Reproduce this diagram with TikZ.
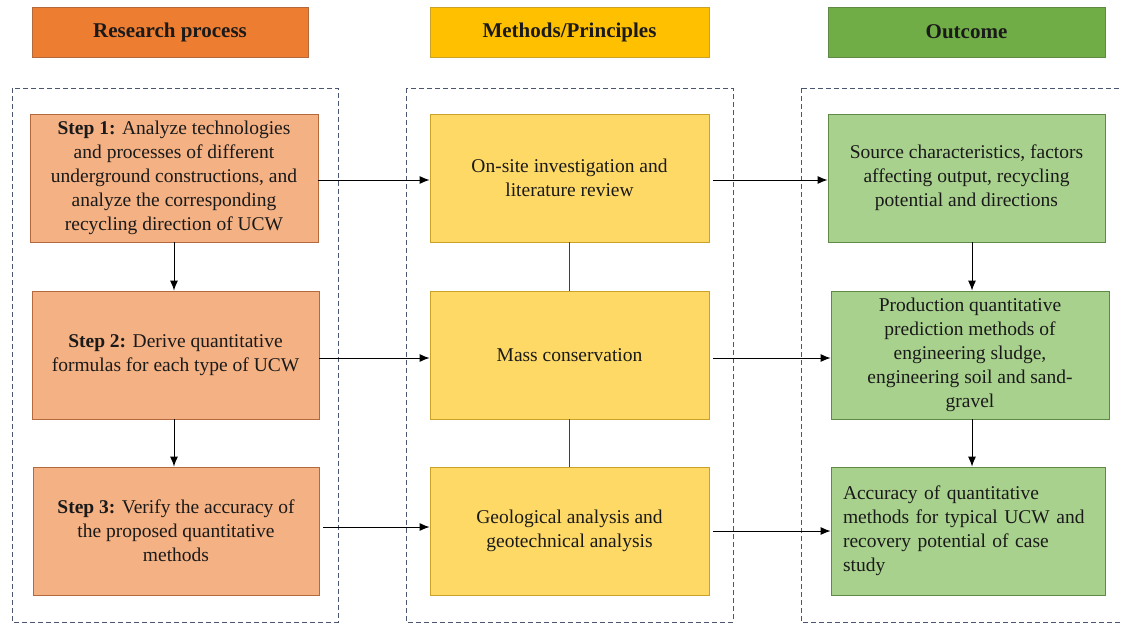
\documentclass[tikz,border=0pt]{standalone}
\usepackage{fontspec}
\setmainfont{Liberation Serif}
\usetikzlibrary{arrows.meta}
\definecolor{hdrA}{HTML}{ED7D31}
\definecolor{hdrB}{HTML}{FFC000}
\definecolor{hdrC}{HTML}{70AD47}
\definecolor{boxA}{HTML}{F4B183}
\definecolor{boxB}{HTML}{FFD966}
\definecolor{boxC}{HTML}{A9D18E}
\definecolor{bdA}{HTML}{B4693C}
\definecolor{bdB}{HTML}{C9A227}
\definecolor{bdC}{HTML}{5E8A45}
\definecolor{dashc}{HTML}{4A5670}
\definecolor{txt}{HTML}{1A1A1A}
\tikzset{
  x=1pt, y=-1pt,
  hdr/.style={draw, line width=0.8pt, minimum height=50pt, inner sep=0pt,
    font=\fontsize{21}{24}\selectfont\bfseries, text=txt},
  pbox/.style={draw, line width=0.8pt, minimum height=128pt, inner sep=0pt,
    align=center, font=\fontsize{19.5}{24}\selectfont, text=txt},
  frame/.style={draw=dashc, line width=0.8pt, dash pattern=on 5pt off 3pt},
  arr/.style={-{Latex[length=10pt,width=8pt]}, line width=1pt, black},
  link/.style={line width=0.7pt, black!75}
}
\begin{document}
\begin{tikzpicture}
\useasboundingbox (0,0) rectangle (1121,623);
\fill[white] (0,0) rectangle (1121,623);
\begin{scope}
\clip (0,0) rectangle (1121,623);
% dashed frames
\draw[frame] (12,88) rectangle (338,622);
\draw[frame] (406,88) rectangle (733,622);
\draw[frame] (801,88) rectangle (1130,622);
\end{scope}

% headers
\node[hdr, fill=hdrA, draw=bdA, minimum width=276pt] (h1) at (170,32) {Research process};
\node[hdr, fill=hdrB, draw=bdB, minimum width=279pt] (h2) at (569.5,32) {Methods/Principles};
\node[hdr, fill=hdrC, draw=bdC, minimum width=277pt] (h3) at (966.5,32) {Outcome};

% left column
\node[pbox, fill=boxA, draw=bdA, minimum width=288pt] (s1) at (174,178)
  {\textbf{Step 1:} Analyze technologies\\ and processes of different\\ underground constructions, and\\ analyze the corresponding\\ recycling direction of UCW};
\node[pbox, fill=boxA, draw=bdA, minimum width=287pt] (s2) at (175.5,355)
  {\textbf{Step 2:} Derive quantitative\\ formulas for each type of UCW};
\node[pbox, fill=boxA, draw=bdA, minimum width=286pt] (s3) at (176,531)
  {\textbf{Step 3:} Verify the accuracy of\\ the proposed quantitative\\ methods};

% middle column
\node[pbox, fill=boxB, draw=bdB, minimum width=279pt] (m1) at (569.5,178)
  {On-site investigation and\\ literature review};
\node[pbox, fill=boxB, draw=bdB, minimum width=279pt] (m2) at (569.5,355)
  {Mass conservation};
\node[pbox, fill=boxB, draw=bdB, minimum width=279pt] (m3) at (569.5,531)
  {Geological analysis and\\ geotechnical analysis};

% right column
\node[pbox, fill=boxC, draw=bdC, minimum width=277pt] (o1) at (966.5,178)
  {Source characteristics, factors\\ affecting output, recycling\\ potential and directions};
\node[pbox, fill=boxC, draw=bdC, minimum width=278pt] (o2) at (970,355)
  {Production quantitative\\ prediction methods of\\ engineering sludge,\\ engineering soil and sand-\\ gravel};
\node[pbox, fill=boxC, draw=bdC, minimum width=274pt, align=left, text width=250pt] (o3) at (968,531)
  {Accuracy of quantitative\\ methods for typical UCW and\\ recovery potential of case\\ study};

% horizontal arrows
\draw[arr] ([yshift=-2pt]s1.east) -- ([yshift=-2pt]m1.west);
\draw[arr, shorten <=4pt] ([yshift=-2pt]m1.east) -- ([yshift=-2pt]o1.west);
\draw[arr] ([yshift=-3pt]s2.east) -- ([yshift=-3pt]m2.west);
\draw[arr, shorten <=4pt] ([yshift=-3pt]m2.east) -- ([yshift=-3pt]o2.west);
\draw[arr, shorten <=4pt] ([yshift=4pt]s3.east) -- ([yshift=4pt]m3.west);
\draw[arr, shorten <=4pt] (m3.east) -- (o3.west);

% vertical arrows
\draw[arr] (s1.south -| 174,0) -- (s2.north -| 174,0);
\draw[arr] (s2.south -| 174,0) -- (s3.north -| 174,0);
\draw[arr] (o1.south -| 972,0) -- (o2.north -| 972,0);
\draw[arr] (o2.south -| 972,0) -- (o3.north -| 972,0);

% middle links
\draw[link] (m1.south) -- (m2.north);
\draw[link] (m2.south) -- (m3.north);
\end{tikzpicture}
\end{document}
